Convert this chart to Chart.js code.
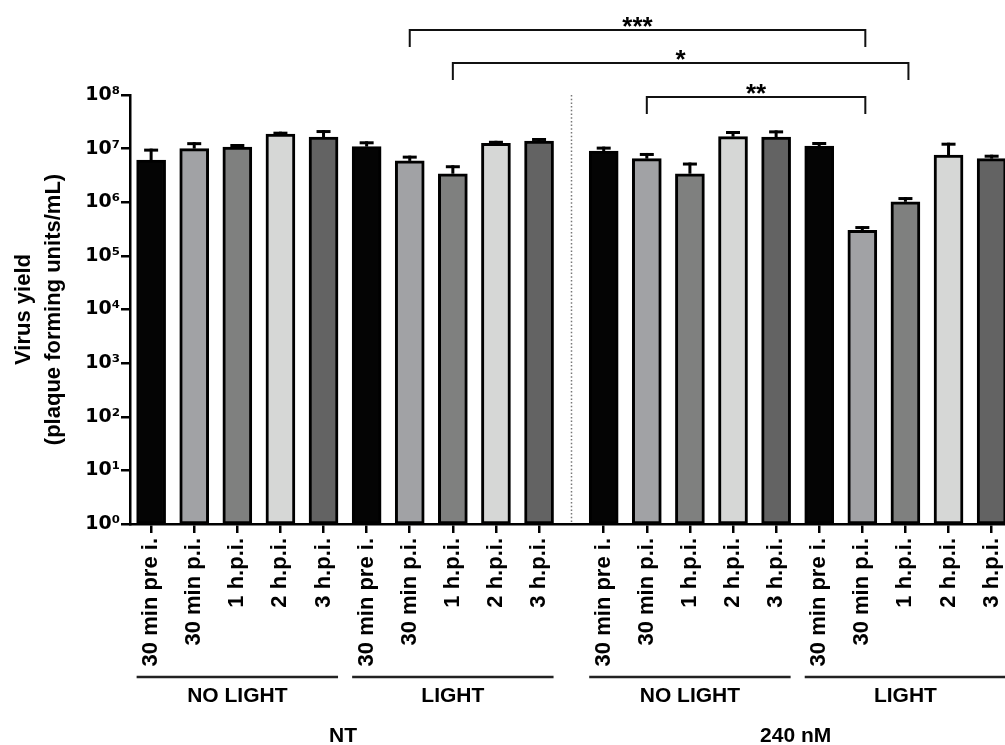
<!DOCTYPE html>
<html><head><meta charset="utf-8">
<script src="https://cdn.jsdelivr.net/npm/chart.js@4/dist/chart.umd.min.js"></script>
<style>html,body{margin:0;padding:0;background:#fff;}canvas{display:block;}</style>
</head><body>
<canvas id="c" width="1005" height="745"></canvas>
<script>
// ---------- data ----------
const timepoints = ['30 min pre i.', '30 min p.i.', '1 h.p.i.', '2 h.p.i.', '3 h.p.i.'];
const categories = [...timepoints, ...timepoints, ...timepoints, ...timepoints];
const lightGroups = ['NO LIGHT', 'LIGHT', 'NO LIGHT', 'LIGHT'];
const treatments = ['NT', '240 nM'];
const yieldMean = [6.1e6, 1.0e7, 1.07e7, 1.87e7, 1.64e7,
                   1.09e7, 5.9e6, 3.4e6, 1.26e7, 1.39e7,
                   9.0e6, 6.5e6, 3.4e6, 1.67e7, 1.64e7,
                   1.12e7, 3.0e5, 1.02e6, 7.6e6, 6.5e6];
const yieldUpper = [1.0e7, 1.32e7, 1.22e7, 2.07e7, 2.22e7,
                    1.37e7, 7.4e6, 4.9e6, 1.40e7, 1.58e7,
                    1.09e7, 8.3e6, 5.5e6, 2.13e7, 2.19e7,
                    1.33e7, 3.6e5, 1.25e6, 1.29e7, 7.7e6];
const yTickExponents = [0, 1, 2, 3, 4, 5, 6, 7, 8];
const comparisons = [
  {from: 6, to: 16, label: '***'},
  {from: 7, to: 17, label: '*'},
  {from: 11, to: 16, label: '**'}
];
const barColors = ['#040404', '#a1a2a5', '#7f807f', '#d6d7d6', '#636363'];

// ---------- layout helpers ----------
const xPos = categories.map((c, i) => i < 10 ? i : i + 0.5);
const sup = ['\u2070', '\u00B9', '\u00B2', '\u00B3', '\u2074', '\u2075', '\u2076', '\u2077', '\u2078', '\u2079'];
const FONT = '"Liberation Sans", Arial, sans-serif';
const BAR_W = 29;

const annotations = {
  id: 'annotations',
  afterDatasetsDraw(chart) {
    const {ctx, chartArea} = chart;
    const xs = chart.scales.x, ys = chart.scales.y;
    ctx.save();
    // dotted separator
    ctx.strokeStyle = '#777';
    ctx.lineWidth = 1.5;
    ctx.setLineDash([1.5, 2.2]);
    const sx = Math.round(xs.getPixelForValue(9.75)) + 0.5;
    ctx.beginPath();
    ctx.moveTo(sx, chartArea.top);
    ctx.lineTo(sx, chartArea.bottom);
    ctx.stroke();
    ctx.setLineDash([]);
    // error bars (upper only)
    ctx.strokeStyle = '#000';
    ctx.lineWidth = 3;
    ctx.lineCap = 'butt';
    for (let i = 0; i < yieldMean.length; i++) {
      const x = xs.getPixelForValue(xPos[i]);
      const y0 = ys.getPixelForValue(yieldMean[i]);
      const y1 = ys.getPixelForValue(yieldUpper[i]);
      ctx.beginPath();
      ctx.moveTo(x, y0);
      ctx.lineTo(x, y1);
      ctx.stroke();
      ctx.beginPath();
      ctx.moveTo(x - 7, y1 + 1.5);
      ctx.lineTo(x + 7, y1 + 1.5);
      ctx.stroke();
    }
    ctx.restore();
  },
  afterDraw(chart) {
    const {ctx} = chart;
    const xs = chart.scales.x;
    ctx.save();
    ctx.fillStyle = '#000';
    ctx.textAlign = 'center';
    // light group lines and labels
    ctx.strokeStyle = '#222';
    ctx.lineWidth = 2.5;
    ctx.font = 'bold 21px ' + FONT;
    ctx.textBaseline = 'middle';
    lightGroups.forEach((lab, g) => {
      const l = xs.getPixelForValue(xPos[g * 5]) - BAR_W / 2;
      const r = xs.getPixelForValue(xPos[g * 5 + 4]) + BAR_W / 2;
      ctx.beginPath();
      ctx.moveTo(l, 677);
      ctx.lineTo(r, 677);
      ctx.stroke();
      ctx.fillText(lab, (l + r) / 2, 696);
    });
    treatments.forEach((lab, t) => {
      const l = xs.getPixelForValue(xPos[t * 10]) - BAR_W / 2;
      const r = xs.getPixelForValue(xPos[t * 10 + 9]) + BAR_W / 2;
      ctx.fillText(lab, (l + r) / 2 - 2, 736);
    });
    // significance brackets
    const levels = [30, 63, 97];
    ctx.strokeStyle = '#111';
    ctx.lineWidth = 2;
    ctx.font = 'bold 26px ' + FONT;
    ctx.textBaseline = 'alphabetic';
    comparisons.forEach((c, k) => {
      const y = levels[k];
      const l = xs.getPixelForValue(xPos[c.from]);
      const r = xs.getPixelForValue(xPos[c.to]) + 3;
      ctx.beginPath();
      ctx.moveTo(l, y + 17);
      ctx.lineTo(l, y);
      ctx.lineTo(r, y);
      ctx.lineTo(r, y + 17);
      ctx.stroke();
      ctx.fillText(c.label, (l + r) / 2, y + 5);
    });
    ctx.restore();
  }
};

new Chart(document.getElementById('c'), {
  type: 'bar',
  data: {
    datasets: [{
      data: categories.map((c, i) => ({x: xPos[i], y: yieldMean[i]})),
      backgroundColor: categories.map((c, i) => barColors[i % 5]),
      borderColor: '#000',
      borderWidth: 3,
      borderSkipped: false,
      barThickness: BAR_W
    }]
  },
  options: {
    responsive: false,
    animation: false,
    devicePixelRatio: 1,
    layout: {padding: {top: 95, right: 0, bottom: 0, left: 0}},
    plugins: {legend: {display: false}, tooltip: {enabled: false}},
    scales: {
      x: {
        type: 'linear',
        min: -0.49,
        max: 19.81,
        offset: false,
        afterBuildTicks: (axis) => { axis.ticks = xPos.map(v => ({value: v})); },
        afterFit: (s) => { s.height = 221; s.paddingLeft = 0; s.paddingRight = 0; },
        ticks: {
          autoSkip: false,
          minRotation: 90,
          maxRotation: 90,
          padding: 5,
          color: '#000',
          font: {family: FONT, size: 22, weight: 'bold'},
          callback: (v, i) => categories[i]
        },
        grid: {display: true, drawOnChartArea: false, drawTicks: true, tickLength: 9, color: '#000', lineWidth: 2.5, offset: false},
        border: {display: true, color: '#000', width: 2.5}
      },
      y: {
        type: 'logarithmic',
        min: 1,
        max: 1e8,
        afterBuildTicks: (axis) => { axis.ticks = yTickExponents.map(e => ({value: Math.pow(10, e)})); },
        afterFit: (s) => { s.width = 130; s.paddingTop = 0; s.paddingBottom = 0; },
        ticks: {
          padding: 1,
          color: '#000',
          font: {family: '"DejaVu Sans", sans-serif', size: 19, weight: 'bold'},
          callback: (v) => '10' + sup[Math.round(Math.log10(v))]
        },
        grid: {display: true, drawOnChartArea: false, drawTicks: true, tickLength: 9, color: '#000', lineWidth: 2.5},
        border: {display: true, color: '#000', width: 2.5},
        title: {
          display: true,
          text: ['Virus yield', '(plaque forming units/mL)'],
          color: '#000',
          font: {family: FONT, size: 22, weight: 'bold', lineHeight: 1.36},
          padding: {top: 9, bottom: 0}
        }
      }
    }
  },
  plugins: [annotations]
});
</script>
</body></html>
